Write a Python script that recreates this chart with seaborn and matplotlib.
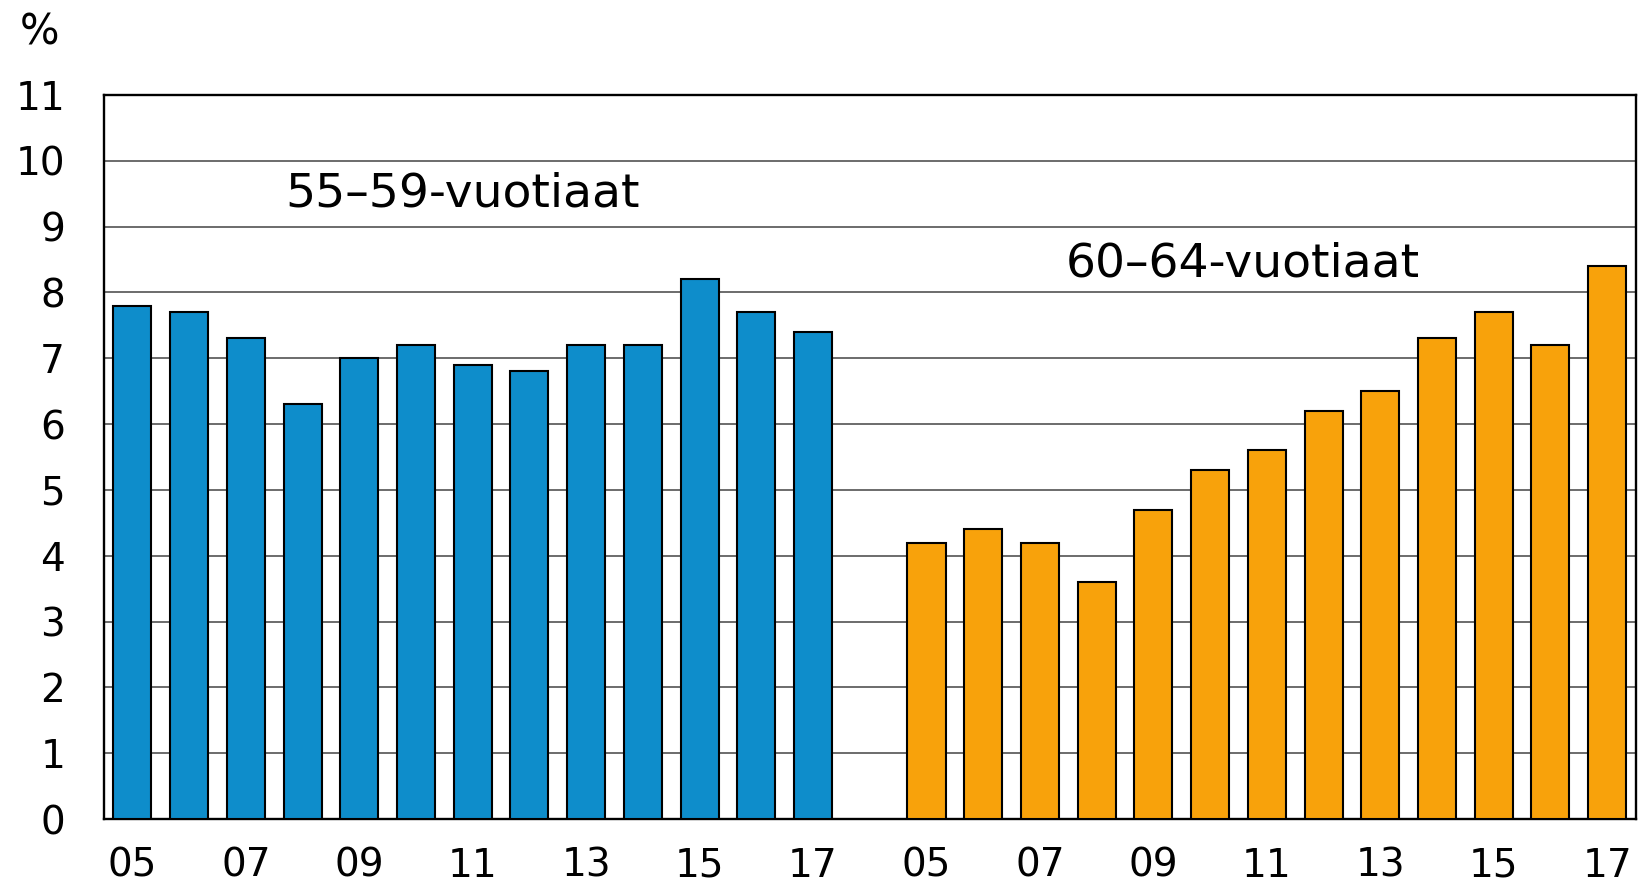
import matplotlib
matplotlib.use("Agg")
import matplotlib.pyplot as plt
import seaborn as sns
import pandas as pd

years = ["05", "06", "07", "08", "09", "10", "11", "12", "13", "14", "15", "16", "17"]
vals_55_59 = [7.8, 7.7, 7.3, 6.3, 7.0, 7.2, 6.9, 6.8, 7.2, 7.2, 8.2, 7.7, 7.4]
vals_60_64 = [4.2, 4.4, 4.2, 3.6, 4.7, 5.3, 5.6, 6.2, 6.5, 7.3, 7.7, 7.2, 8.4]
groups = ["55–59-vuotiaat", "60–64-vuotiaat"]
colors = ["#0E8DCB", "#F8A20B"]
yticks = list(range(0, 12))

n = len(years)
pos_a = list(range(n))
pos_b = [n + 1 + i for i in range(n)]
df = pd.DataFrame({
    "pos": pos_a + pos_b,
    "value": vals_55_59 + vals_60_64,
    "group": [groups[0]] * n + [groups[1]] * n,
})

sns.set_style("white")
plt.rcParams["font.family"] = ["DejaVu Sans"]
plt.rcParams["text.color"] = "black"
plt.rcParams["xtick.color"] = "black"
plt.rcParams["ytick.color"] = "black"

fig = plt.figure(figsize=(16.38, 8.82), dpi=100)
ax = fig.add_axes([0.0635, 0.0714, 0.935, 0.821])

sns.barplot(data=df, x="pos", y="value", hue="group", palette=colors,
            native_scale=True, dodge=False, width=0.67, legend=False,
            saturation=1, edgecolor="black", linewidth=1.5, ax=ax, zorder=3)

ax.set_xlim(-0.5, 2 * n + 0.5)
ax.set_ylim(0, 11)
ax.set_yticks(yticks)
ax.set_yticklabels([str(t) for t in yticks], fontsize=28, color="black")
tick_pos = pos_a[::2] + pos_b[::2]
ax.set_xticks(tick_pos)
ax.set_xticklabels(years[::2] * 2, fontsize=28, color="black")
ax.tick_params(axis="both", length=0)
ax.tick_params(axis="y", pad=28)
ax.tick_params(axis="x", pad=20)
ax.set_xlabel("")
ax.set_ylabel("")
ax.yaxis.grid(True, color="#444444", linewidth=1.1, zorder=0)
ax.set_axisbelow(True)
for s in ax.spines.values():
    s.set_visible(True)
    s.set_color("black")
    s.set_linewidth(1.7)

ax.text(2.69, 9.5, groups[0], fontsize=34, va="center", ha="left", color="black")
ax.text(16.45, 8.43, groups[1], fontsize=34, va="center", ha="left", color="black")
fig.text(0.024, 0.963, "%", fontsize=30, va="center", ha="center", color="black")

fig.savefig("out.png", dpi=100)
